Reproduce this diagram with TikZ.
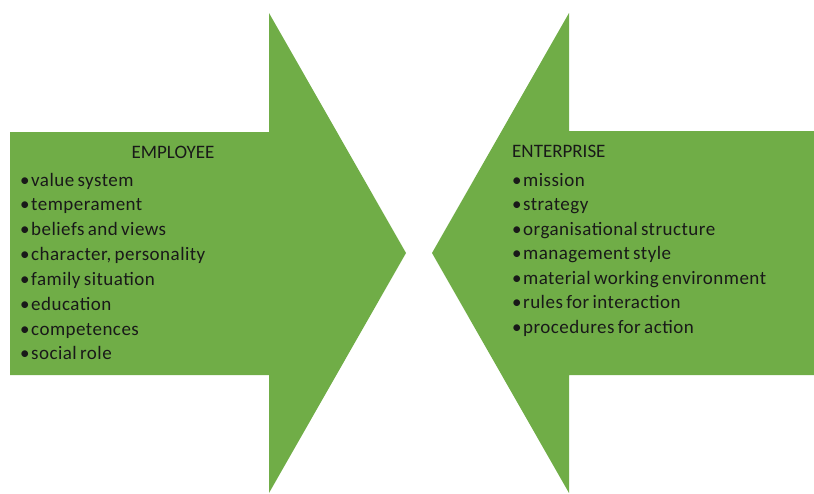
\documentclass[tikz,border=0pt]{standalone}
\usepackage{fontspec}
\setmainfont{Carlito}
\newfontfamily\itemfont[LetterSpace=2.5,WordSpace=0.7]{Carlito}
\definecolor{arrowgreen}{HTML}{70AD47}
\begin{document}
\begin{tikzpicture}[x=1pt,y=-1pt,
  arrowshape/.style={fill=arrowgreen,draw=none},
  txt/.style={inner sep=0pt,anchor=base west,font=\itemfont\fontsize{19}{23}\selectfont,text=black!90},
  head/.style={inner sep=0pt,anchor=base west,font=\fontsize{19}{23}\selectfont,text=black!90}]
\useasboundingbox (0,0) rectangle (814,493);
% left arrow
\fill[arrowshape] (10,132) -- (269,132) -- (269,13) -- (406,253) -- (269,493) -- (269,375) -- (10,375) -- cycle;
% right arrow
\fill[arrowshape] (814,131) -- (569,131) -- (569,13) -- (432,253) -- (569,493) -- (569,375) -- (814,375) -- cycle;
% left text
\node[head,anchor=base] (emp) at (173,158) {EMPLOYEE};
\foreach \t [count=\i from 0] in {value system,temperament,beliefs and views,{character, personality},family situation,education,competences,social role}
  \node[txt] (l\i) at (31,186+24.85*\i) {\llap{\textbullet\hspace{1.5pt}}\t};
% right text
\node[head] (ent) at (512,157) {ENTERPRISE};
\foreach \t [count=\i from 0] in {mission,strategy,organisational structure,management style,material working environment,rules for interaction,procedures for action}
  \node[txt] (r\i) at (523,186+24.5*\i) {\llap{\textbullet\hspace{1.5pt}}\t};
\end{tikzpicture}
\end{document}
